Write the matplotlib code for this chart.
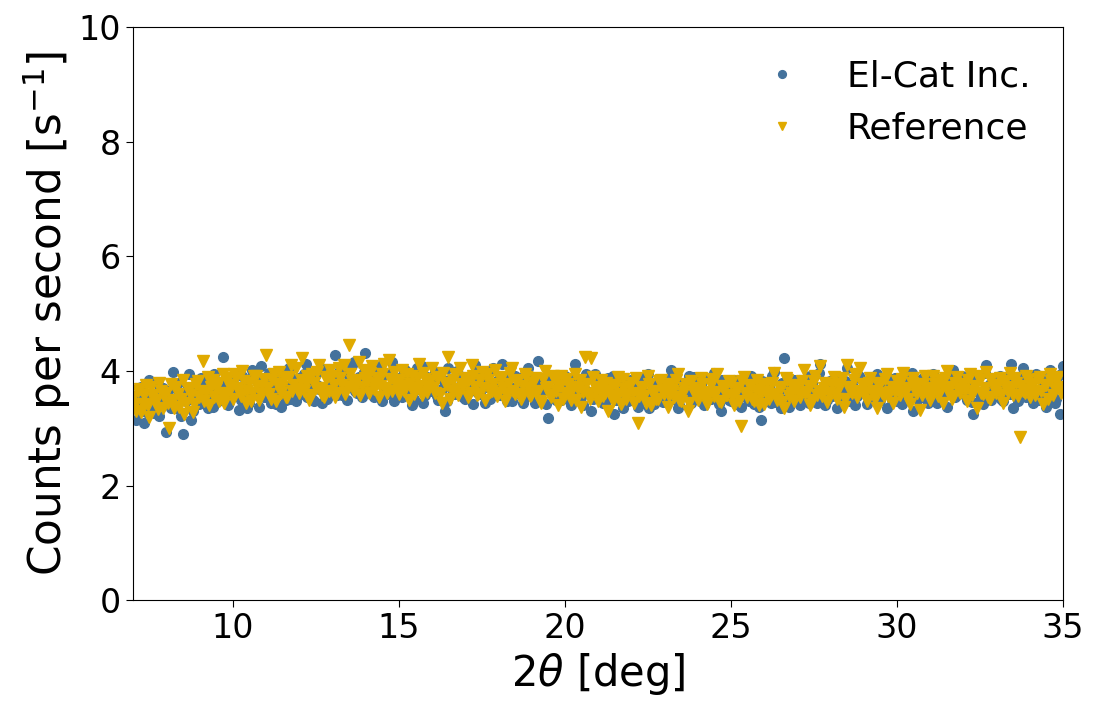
import numpy as np
import matplotlib.pyplot as plt

# 2theta grid: main points at whole 0.1 deg, in-between points at x.x5 deg
two_theta_a = np.round(np.arange(7.0, 35.05, 0.1), 2)
two_theta_b = np.round(np.arange(7.05, 35.0, 0.1), 2)

elcat_a = [
    3.38, 3.15, 3.62, 3.48, 3.28, 3.85, 3.41, 3.55, 3.22, 3.70,
    2.93, 3.52, 3.98, 3.35, 3.61, 2.90, 3.47, 3.95, 3.30, 3.58,
    3.42, 3.75, 3.55, 3.88, 3.38, 3.64, 3.50, 4.25, 3.72, 3.46,
    3.80, 3.58, 3.32, 3.92, 3.66, 3.45, 4.02, 3.60, 3.38, 3.78,
    3.55, 3.96, 3.70, 3.42, 3.85, 3.63, 3.50, 4.05, 3.72, 3.48,
    3.88, 3.60, 4.12, 3.74, 3.52, 3.95, 3.68, 3.45, 4.00, 3.80,
    3.62, 4.28, 3.85, 3.58, 3.98, 3.72, 4.10, 3.66, 3.90, 3.55,
    4.32, 3.78, 3.60, 4.05, 3.85, 3.48, 3.95, 3.70, 4.15, 3.62,
    3.88, 3.55, 4.02, 3.75, 3.40, 3.92, 3.68, 4.08, 3.58, 3.82,
    3.65, 3.98, 3.50, 3.86, 3.30, 4.05, 3.72, 3.60, 3.94, 3.78,
    3.52, 3.90, 3.68, 4.10, 3.62, 3.80, 3.45, 3.96, 3.70, 3.58,
    3.85, 4.12, 3.60, 3.75, 3.48, 3.92, 3.66, 3.82, 3.55, 4.05,
    3.70, 3.45, 4.18, 3.62, 3.80, 3.18, 3.88, 3.58, 3.72, 3.50,
    3.92, 3.64, 3.40, 4.12, 3.76, 3.55, 3.85, 3.62, 3.30, 3.95,
    3.58, 3.72, 3.45, 3.88, 3.62, 3.25, 3.80, 3.55, 3.70, 3.48,
    3.85, 3.60, 3.38, 3.76, 3.52, 3.95, 3.64, 3.42, 3.82, 3.58,
    3.70, 3.48, 4.02, 3.62, 3.35, 3.80, 3.56, 3.74, 3.44, 3.90,
    3.60, 3.78, 3.40, 3.66, 3.52, 3.96, 3.58, 3.30, 3.75, 3.62,
    3.48, 3.85, 3.60, 3.38, 3.72, 3.55, 3.92, 3.42, 3.66, 3.15,
    3.80, 3.58, 3.45, 3.98, 3.62, 3.36, 4.22, 3.70, 3.52, 3.85,
    3.60, 3.40, 3.76, 3.55, 3.92, 3.64, 3.45, 4.12, 3.68, 3.50,
    3.82, 3.58, 3.35, 3.74, 3.62, 4.05, 3.48, 3.70, 3.56, 3.88,
    3.64, 3.42, 3.80, 3.58, 3.95, 3.50, 3.72, 3.36, 3.86, 3.62,
    3.48, 3.78, 3.60, 3.92, 3.55, 3.30, 3.74, 3.66, 3.88, 3.52,
    3.70, 3.95, 3.45, 3.82, 3.62, 3.38, 3.76, 4.02, 3.58, 3.68,
    3.85, 3.50, 3.72, 3.25, 3.90, 3.64, 3.42, 4.10, 3.78, 3.56,
    3.66, 3.92, 3.48, 3.80, 3.60, 3.35, 3.84, 3.70, 4.05, 3.55,
    3.74, 3.45, 3.95, 3.62, 3.82, 3.38, 4.02, 3.68, 3.52, 3.25,
    4.08,
]

elcat_b = [
    3.50, 3.32, 3.72, 3.10, 3.45, 3.60, 3.26, 3.78, 3.40, 3.52,
    3.66, 3.35, 3.48, 3.80, 3.22, 3.58, 3.70, 3.15, 3.62, 3.44,
    3.88, 3.52, 3.36, 3.68, 3.95, 3.48, 3.78, 3.58, 3.40, 3.85,
    3.62, 3.95, 3.50, 3.74, 3.35, 3.88, 3.60, 3.82, 4.08, 3.55,
    3.78, 3.45, 3.90, 3.66, 3.38, 3.98, 3.74, 3.52, 3.86, 3.62,
    3.70, 3.95, 3.55, 3.82, 3.48, 3.76, 4.05, 3.64, 3.52, 3.92,
    3.78, 3.58, 4.02, 3.70, 3.50, 3.88, 4.15, 3.62, 3.80, 3.98,
    3.65, 3.92, 3.55, 3.84, 4.08, 3.72, 3.60, 3.95, 3.48, 3.82,
    3.74, 3.98, 3.62, 3.86, 3.52, 4.05, 3.70, 3.45, 3.90, 3.66,
    3.80, 3.56, 3.92, 3.70, 3.48, 3.85, 3.62, 4.00, 3.74, 3.55,
    3.90, 3.66, 3.42, 3.82, 3.60, 3.95, 3.72, 3.52, 4.05, 3.68,
    3.58, 3.80, 3.48, 3.94, 3.70, 3.62, 3.88, 3.45, 3.76, 3.92,
    3.62, 3.85, 3.55, 3.74, 3.42, 3.90, 3.66, 3.50, 3.80, 3.60,
    3.72, 3.48, 3.88, 3.58, 3.76, 3.40, 3.95, 3.64, 3.52, 3.82,
    3.66, 3.44, 3.78, 3.58, 3.92, 3.50, 3.70, 3.36, 3.84, 3.62,
    3.52, 3.76, 3.44, 3.88, 3.60, 3.35, 3.72, 3.56, 3.80, 3.46,
    3.64, 3.86, 3.52, 3.70, 3.40, 3.78, 3.60, 3.92, 3.50, 3.68,
    3.80, 3.46, 3.66, 3.88, 3.55, 3.72, 3.42, 3.84, 3.60, 3.50,
    3.68, 3.42, 3.78, 3.56, 3.90, 3.48, 3.70, 3.60, 3.38, 3.82,
    3.55, 3.72, 3.92, 3.46, 3.66, 3.80, 3.52, 3.38, 3.76, 3.62,
    3.84, 3.50, 3.68, 3.44, 3.80, 3.58, 3.96, 3.62, 3.40, 3.74,
    3.56, 3.88, 3.66, 3.45, 3.82, 3.60, 3.75, 3.40, 3.92, 3.64,
    3.78, 3.55, 3.90, 3.68, 3.48, 3.84, 3.62, 3.76, 3.50, 3.88,
    3.65, 3.42, 3.80, 3.58, 3.96, 3.70, 3.52, 3.86, 3.60, 3.44,
    3.82, 3.58, 3.72, 3.48, 3.90, 3.66, 3.84, 3.55, 3.74, 3.92,
    3.60, 3.78, 3.46, 3.88, 3.64, 3.55, 3.96, 3.70, 3.50, 3.84,
    3.74, 3.52, 3.90, 3.66, 4.12, 3.60, 3.48, 3.86, 3.72, 3.58,
    3.82, 3.64, 3.50, 3.92, 3.70, 3.56, 3.86, 3.44, 3.78, 3.95,
]

reference_a = [
    3.55, 3.30, 3.68, 3.42, 3.75, 3.20, 3.58, 3.48, 3.80, 3.35,
    3.62, 3.00, 3.50, 3.72, 3.38, 3.85, 3.45, 3.65, 3.28, 3.78,
    3.55, 4.18, 3.62, 3.40, 3.85, 3.70, 3.48, 3.95, 3.60, 3.75,
    3.52, 3.88, 3.66, 4.00, 3.45, 3.80, 3.62, 3.92, 3.50, 3.74,
    4.28, 3.60, 3.85, 3.48, 3.98, 3.72, 3.55, 3.90, 3.66, 4.05,
    3.62, 4.22, 3.78, 3.50, 3.95, 3.70, 4.10, 3.58, 3.86, 3.66,
    3.92, 3.55, 4.05, 3.75, 3.60, 4.45, 3.82, 3.68, 4.15, 3.72,
    3.88, 3.62, 4.08, 3.78, 3.55, 3.95, 3.70, 4.20, 3.65, 3.85,
    3.60, 4.02, 3.74, 3.50, 3.92, 3.68, 4.12, 3.58, 3.86, 3.72,
    4.05, 3.62, 3.90, 3.45, 3.80, 4.25, 3.66, 3.95, 3.58, 3.78,
    3.88, 3.55, 4.10, 3.72, 3.60, 3.98, 3.50, 3.84, 3.66, 4.02,
    3.62, 3.90, 3.48, 3.78, 4.05, 3.60, 3.85, 3.52, 3.95, 3.70,
    3.58, 3.88, 3.65, 3.45, 4.00, 3.72, 3.55, 3.82, 3.40, 3.92,
    3.62, 3.78, 3.50, 3.95, 3.68, 3.38, 4.25, 3.60, 4.22, 3.72,
    3.48, 3.85, 3.62, 3.30, 3.76, 3.55, 3.90, 3.42, 3.68, 3.58,
    3.80, 3.45, 3.10, 3.72, 3.56, 3.92, 3.40, 3.66, 3.52, 3.84,
    3.60, 3.38, 3.78, 3.55, 3.95, 3.48, 3.70, 3.30, 3.82, 3.62,
    3.50, 3.88, 3.64, 3.42, 3.76, 3.56, 3.94, 3.46, 3.68, 3.58,
    3.80, 3.40, 3.66, 3.05, 3.90, 3.55, 3.72, 3.48, 3.84, 3.60,
    3.42, 3.78, 3.58, 3.96, 3.50, 3.70, 3.36, 3.85, 3.62, 3.48,
    3.76, 3.55, 4.02, 3.64, 3.40, 3.82, 3.58, 4.08, 3.70, 3.46,
    3.62, 3.90, 3.52, 3.78, 3.38, 4.10, 3.66, 3.85, 3.55, 4.05,
    3.72, 3.48, 3.88, 3.60, 3.35, 3.80, 3.56, 3.95, 3.64, 3.45,
    3.82, 3.58, 3.96, 3.70, 3.42, 3.88, 3.62, 3.32, 3.78, 3.66,
    3.50, 3.92, 3.68, 3.85, 3.44, 4.00, 3.72, 3.56, 3.90, 3.62,
    3.78, 3.48, 3.95, 3.66, 3.36, 3.84, 3.60, 3.98, 3.52, 3.76,
    3.62, 3.88, 3.45, 3.72, 3.96, 3.58, 3.80, 2.85, 3.66, 3.92,
    3.55, 3.78, 3.62, 3.90, 3.42, 3.75, 3.95, 3.58, 3.84, 3.68,
    3.72,
]

reference_b = [
    3.42, 3.65, 3.28, 3.58, 3.40, 3.72, 3.50, 3.34, 3.66, 3.55,
    3.45, 3.78, 3.36, 3.60, 3.52, 3.25, 3.70, 3.58, 3.42, 3.82,
    3.65, 3.48, 3.90, 3.72, 3.55, 3.80, 3.62, 3.45, 3.88, 3.70,
    3.95, 3.70, 3.56, 3.82, 3.66, 3.48, 3.92, 3.74, 3.60, 3.86,
    3.70, 3.52, 3.95, 3.78, 3.62, 3.88, 3.55, 4.10, 3.76, 3.68,
    3.85, 3.66, 3.92, 3.58, 3.80, 3.98, 3.70, 3.55, 3.90, 4.02,
    3.75, 3.62, 3.88, 4.10, 3.72, 3.95, 3.66, 3.85, 3.58, 4.02,
    3.80, 3.96, 3.68, 3.88, 3.74, 4.12, 3.62, 3.86, 3.98, 3.72,
    3.85, 3.66, 3.95, 3.78, 3.60, 3.88, 3.74, 3.96, 3.64, 3.82,
    3.70, 3.88, 3.60, 3.96, 3.75, 3.52, 3.84, 3.68, 4.06, 3.72,
    3.80, 3.62, 3.92, 3.58, 3.84, 3.70, 3.95, 3.64, 3.78, 3.56,
    3.88, 3.70, 3.58, 3.96, 3.66, 3.82, 3.60, 3.74, 3.90, 3.56,
    3.80, 3.64, 3.48, 3.86, 3.70, 3.58, 3.92, 3.66, 3.74, 3.52,
    3.86, 3.60, 3.72, 3.50, 3.84, 3.64, 3.78, 3.52, 3.90, 3.62,
    3.70, 3.56, 3.80, 3.64, 3.48, 3.76, 3.60, 3.86, 3.52, 3.72,
    3.62, 3.88, 3.56, 3.70, 3.44, 3.78, 3.60, 3.52, 3.82, 3.66,
    3.74, 3.56, 3.66, 3.84, 3.50, 3.62, 3.78, 3.44, 3.70, 3.58,
    3.66, 3.78, 3.52, 3.60, 3.86, 3.64, 3.48, 3.74, 3.58, 3.82,
    3.56, 3.70, 3.48, 3.82, 3.62, 3.76, 3.52, 3.66, 3.40, 3.74,
    3.64, 3.52, 3.80, 3.60, 3.72, 3.46, 3.88, 3.56, 3.74, 3.66,
    3.58, 3.82, 3.62, 3.74, 3.50, 3.92, 3.66, 3.56, 3.80, 3.62,
    3.76, 3.58, 3.70, 3.88, 3.52, 3.72, 3.62, 3.94, 3.66, 3.78,
    3.60, 3.80, 3.66, 3.52, 3.74, 3.62, 3.86, 3.56, 3.72, 3.64,
    3.70, 3.86, 3.62, 3.52, 3.80, 3.66, 3.74, 3.58, 3.92, 3.70,
    3.62, 3.78, 3.56, 3.72, 3.88, 3.64, 3.52, 3.80, 3.68, 3.76,
    3.66, 3.84, 3.58, 3.74, 3.92, 3.62, 3.70, 3.54, 3.86, 3.68,
    3.76, 3.58, 3.82, 3.64, 3.70, 3.88, 3.56, 3.74, 3.62, 3.84,
    3.70, 3.58, 3.86, 3.66, 3.76, 3.52, 3.82, 3.68, 3.90, 3.62,
]

two_theta = np.concatenate([two_theta_a, two_theta_b])
elcat = np.concatenate([elcat_a, elcat_b])
reference = np.concatenate([reference_a, reference_b])

fig = plt.figure(figsize=(10.98, 7.13), dpi=100)
ax = fig.add_axes([0.121, 0.158, 0.847, 0.804])
ax.plot(two_theta, elcat, 'o', color='#44729c', markersize=7, label='El-Cat Inc.')
ax.plot(two_theta, reference, 'v', color='#e0aa00', markersize=8, label='Reference')
ax.set_xlim(7, 35)
ax.set_ylim(0, 10)
ax.set_xticks([10, 15, 20, 25, 30, 35])
ax.tick_params(labelsize=24, length=5)
ax.set_xlabel(r'$2\theta$ [deg]', fontsize=30)
ax.set_ylabel(r'Counts per second [s$^{-1}$]', fontsize=31.5)
ax.legend(loc='upper right', frameon=False, fontsize=26, markerscale=0.8)

fig.savefig('out.png')
